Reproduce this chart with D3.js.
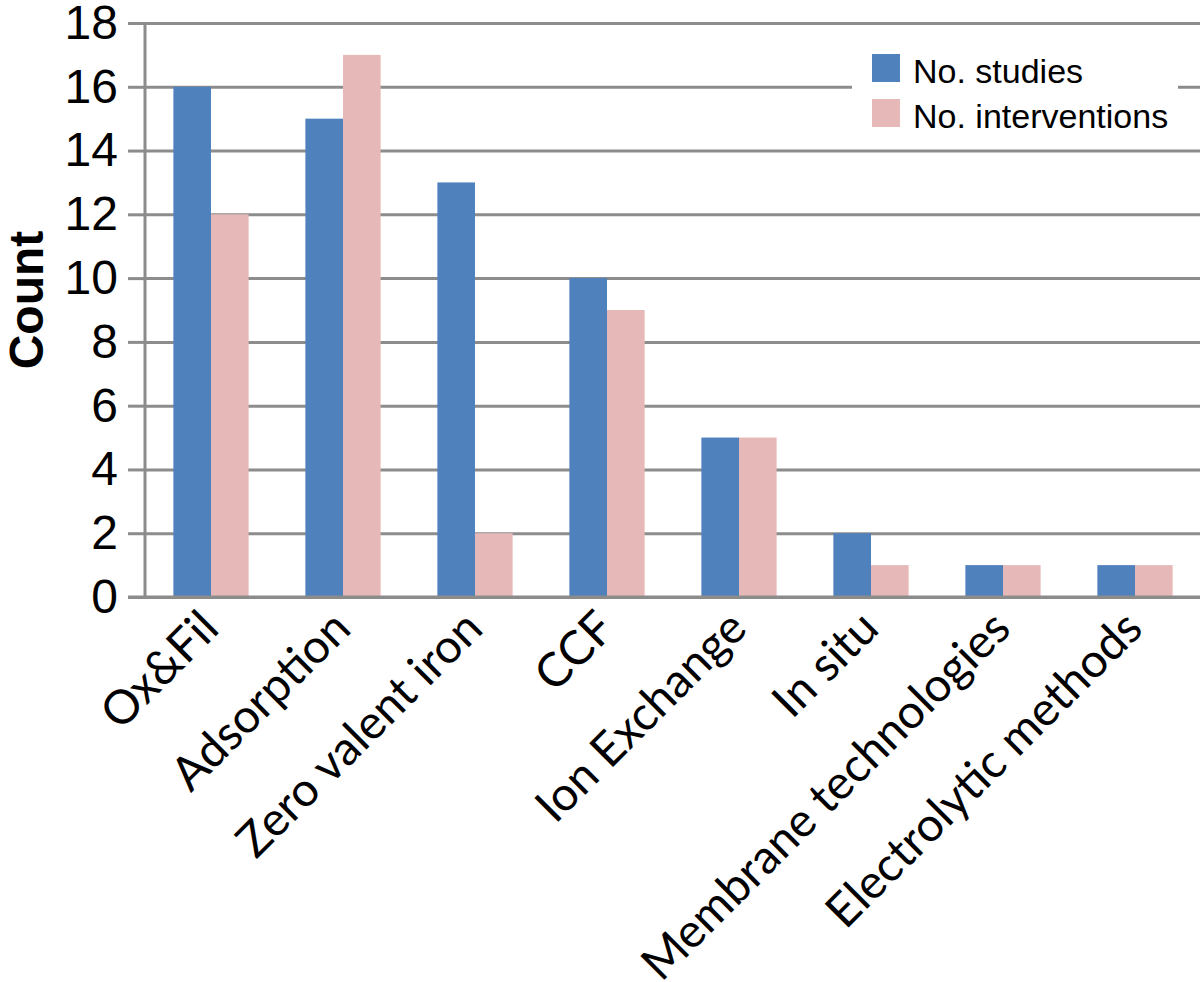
<!DOCTYPE html>
<html>
<head>
<meta charset="utf-8">
<script src="https://cdn.jsdelivr.net/npm/d3@7"></script>
<style>
  body { margin: 0; background: #fff; }
</style>
</head>
<body>
<div id="chart"></div>
<script>
var categories = ["Ox&Fil", "Adsorption", "Zero valent iron", "CCF", "Ion Exchange", "In situ", "Membrane technologies", "Electrolytic methods"];
var studies = [16, 15, 13, 10, 5, 2, 1, 1];
var interventions = [12, 17, 2, 9, 5, 1, 1, 1];
var seriesNames = ["No. studies", "No. interventions"];
var colors = ["#4f81bd", "#e6b9b8"];
var yTicks = [0, 2, 4, 6, 8, 10, 12, 14, 16, 18];

var W = 1200, H = 982;
var plotLeft = 145, plotRight = 1201, plotTop = 23, plotBottom = 597;

var svg = d3.select("#chart")
.append("svg")
.attr("width", W)
.attr("height", H);

var xScale = d3.scaleBand()
.domain(categories)
.range([plotLeft, plotRight])
.paddingInner(0.43)
.paddingOuter(0.215);

var xSub = d3.scaleBand()
.domain(seriesNames)
.range([0, xScale.bandwidth()]);

var yScale = d3.scaleLinear()
.domain([0, 18])
.range([plotBottom, plotTop]);

// gridlines
var grid = svg.append("g")
.attr("transform", "translate(" + plotLeft + ",0)")
.call(d3.axisLeft(yScale).tickValues(yTicks).tickSize(-(W - plotLeft)).tickFormat(""));
grid.select(".domain").remove();
grid.selectAll("line").attr("stroke", "#8c8c8c").attr("stroke-width", 3);

// y axis with outward ticks
var yAxis = svg.append("g")
.attr("transform", "translate(" + plotLeft + ",0)")
.call(d3.axisLeft(yScale).tickValues(yTicks).tickSize(17).tickPadding(10));
yAxis.select(".domain").attr("stroke", "#8c8c8c").attr("stroke-width", 3)
.attr("d", "M0," + plotTop + "V" + plotBottom);
yAxis.selectAll("line").attr("stroke", "#8c8c8c").attr("stroke-width", 3);
yAxis.selectAll("text")
.attr("font-family", "Liberation Sans, Arial, sans-serif")
.attr("font-size", 48)
.attr("fill", "#000");

// bars
var rows = categories.map(function (c, i) {
  return { cat: c, vals: [studies[i], interventions[i]] };
});
var groups = svg.append("g")
.selectAll("g")
.data(rows)
.enter()
.append("g")
.attr("transform", function (d) { return "translate(" + xScale(d.cat) + ",0)"; });
groups.selectAll("rect")
.data(function (d) { return d.vals.map(function (v, j) { return { s: seriesNames[j], v: v, j: j }; }); })
.enter()
.append("rect")
.attr("x", function (d) { return xSub(d.s); })
.attr("width", xSub.bandwidth())
.attr("y", function (d) { return yScale(d.v); })
.attr("height", function (d) { return yScale(0) - yScale(d.v); })
.attr("fill", function (d) { return colors[d.j]; });

// baseline on top of bars
svg.append("line")
.attr("x1", 128).attr("x2", W)
.attr("y1", yScale(0)).attr("y2", yScale(0))
.attr("stroke", "#8c8c8c").attr("stroke-width", 3);

// x labels
svg.append("g")
.selectAll("text")
.data(categories)
.enter()
.append("text")
.attr("transform", function (d) {
  var x = xScale(d) + xScale.bandwidth() / 2 + 10;
  return "translate(" + x + "," + 631 + ") rotate(-45)";
})
.attr("text-anchor", "end")
.attr("font-family", "Lato, 'Open Sans', sans-serif")
.attr("font-size", 47)
.attr("fill", "#000")
.text(function (d) { return d; });

// y title
svg.append("text")
.attr("transform", "translate(43,300) rotate(-90)")
.attr("text-anchor", "middle")
.attr("font-family", "Liberation Sans, Arial, sans-serif")
.attr("font-weight", "bold")
.attr("font-size", 48)
.text("Count");

// legend
var legend = svg.append("g");
legend.append("rect")
.attr("x", 852).attr("y", 45).attr("width", 326).attr("height", 95)
.attr("fill", "#fff");
seriesNames.forEach(function (s, i) {
  legend.append("rect")
  .attr("x", 872).attr("y", 54 + i * 45)
  .attr("width", 28).attr("height", 28)
  .attr("fill", colors[i]);
  legend.append("text")
  .attr("x", 913).attr("y", 83 + i * 45)
  .attr("font-family", "Liberation Sans, Arial, sans-serif")
  .attr("font-size", 34)
  .attr("fill", "#000")
  .text(s);
});
</script>
</body>
</html>
